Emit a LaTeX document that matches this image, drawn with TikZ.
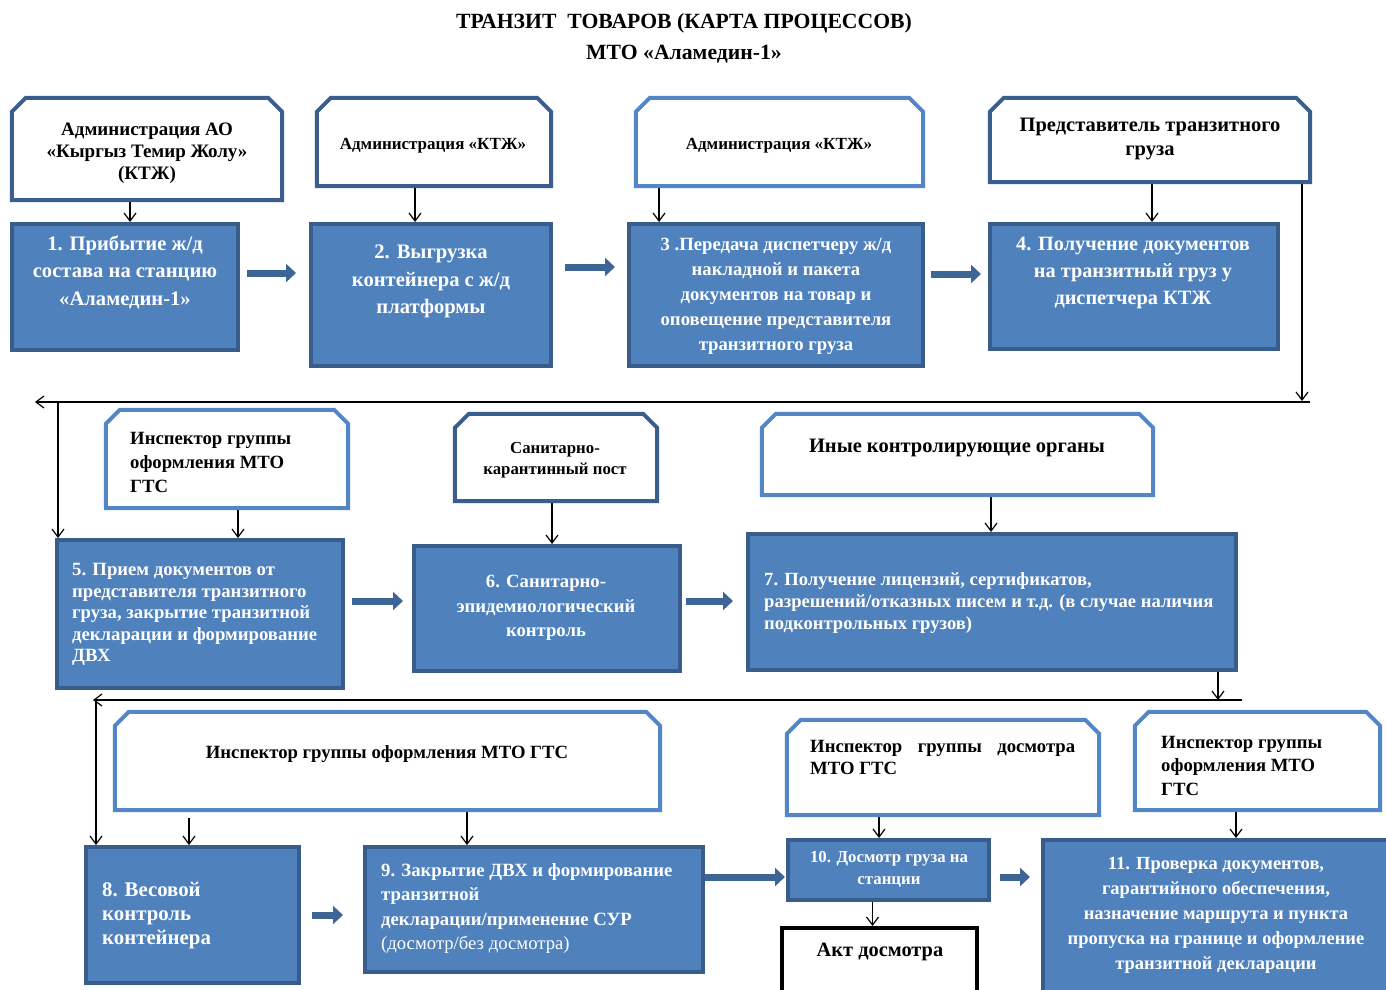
\documentclass[tikz,border=0pt]{standalone}
\usepackage{fontspec}
\setmainfont{Liberation Serif}
\usetikzlibrary{arrows.meta,calc}

\definecolor{boxblue}{HTML}{4F81BD}
\definecolor{boxedge}{HTML}{385D8A}
\definecolor{hdrlight}{HTML}{5286C6}
\definecolor{hdrdark}{HTML}{3A5F8E}
\definecolor{flowblue}{HTML}{3D6696}

\newcommand{\fs}[2]{\fontsize{#1}{#2}\selectfont\bfseries}

\tikzset{
  hdr/.style={rectangle, fill=white, inner sep=0pt},
  blk/.style={rectangle, draw=boxedge, line width=4pt, fill=boxblue, inner sep=0pt},
  actbox/.style={rectangle, draw=black, line width=4pt, fill=white, inner sep=0pt},
  lbl/.style={align=center, inner sep=0pt},
  wlbl/.style={lbl, text=white},
  flow/.style={draw=flowblue, line width=7pt, -{Triangle[length=10pt,width=18pt]}},
  link/.style={draw=black, line width=1.2pt, -{Straight Barb[length=8pt,width=12pt]}},
}

\begin{document}
\begin{tikzpicture}[x=1pt,y=-1pt]

% page
\fill[white] (0,0) rectangle (1386,990);
\useasboundingbox (0,0) rectangle (1386,990);

% title
\node[lbl, font={\fs{21.7}{31}}] (title) at (684,38) {ТРАНЗИТ\ \ ТОВАРОВ (КАРТА ПРОЦЕССОВ)\\МТО «Аламедин-1»};

% row 1
\node[hdr, minimum width=270pt, minimum height=102pt] (h1) at (147,149) {};
\node[hdr, minimum width=234pt, minimum height=88pt] (h2) at (434,142) {};
\node[hdr, minimum width=287pt, minimum height=88pt] (h3) at (779.5,142) {};
\node[hdr, minimum width=320pt, minimum height=84pt] (h4) at (1150,140) {};

\node[blk, minimum width=226pt, minimum height=126pt] (b1) at (125,287) {};
\node[blk, minimum width=240pt, minimum height=142pt] (b2) at (431,295) {};
\node[blk, minimum width=294pt, minimum height=142pt] (b3) at (776,295) {};
\node[blk, minimum width=288pt, minimum height=125pt] (b4) at (1134,286.5) {};

\node[lbl, font={\fs{19}{22}}] (h1t) at (147,153) {Администрация АО\\«Кыргыз Темир Жолу»\\(КТЖ)};
\node[lbl, font={\fs{17}{20}}] (h2t) at (433,146) {Администрация «КТЖ»};
\node[lbl, font={\fs{17}{20}}] (h3t) at (779,146) {Администрация «КТЖ»};
\node[lbl, font={\fs{20.5}{24}}] (h4t) at (1150,139) {Представитель транзитного\\груза};

\node[wlbl, font={\fs{20.6}{27.5}}] (b1t) at (125,272) {1. Прибытие ж/д\\состава на станцию\\«Аламедин-1»};
\node[wlbl, font={\fs{20.6}{27.5}}] (b2t) at (431,281.5) {2. Выгрузка\\контейнера с ж/д\\платформы};
\node[wlbl, font={\fs{18.7}{25}}] (b3t) at (776,296) {3 .Передача диспетчеру ж/д\\накладной и пакета\\документов на товар и\\оповещение представителя\\транзитного груза};
\node[wlbl, font={\fs{20.3}{27}}] (b4t) at (1133,273) {4. Получение документов\\на транзитный груз у\\диспетчера КТЖ};

\draw[link] ($(h1.south)+(-17,0)$) coordinate (a) -- (a |- b1.north);
\draw[link] ($(h2.south)+(-19,0)$) coordinate (a) -- (a |- b2.north);
\draw[link] ($(h3.south)+(-120.5,0)$) coordinate (a) -- (a |- b3.north);
\draw[link] ($(h4.south)+(2,0)$) coordinate (a) -- (a |- b4.north);

\draw[flow] ($(b1.east)+(7,-14)$) coordinate (a) -- ($(a -| b2.west)+(-13,0)$);
\draw[flow] ($(b2.east)+(12,-28)$) coordinate (a) -- ($(a -| b3.west)+(-12,0)$);
\draw[flow] ($(b3.east)+(6,-21)$) coordinate (a) -- ($(a -| b4.west)+(-7,0)$);

% return to row 2
\coordinate (r1) at (1302,401);
\coordinate (r1a) at (1310,402);
\coordinate (r1b) at (35,402);
\coordinate (r1c) at (58,402);

% row 2
\node[hdr, minimum width=242pt, minimum height=98pt] (h5) at (227,459) {};
\node[hdr, minimum width=202pt, minimum height=87pt] (h6) at (556,457.5) {};
\node[hdr, minimum width=391pt, minimum height=81pt] (h7) at (957.5,454.5) {};

\node[blk, minimum width=286pt, minimum height=148pt] (b5) at (200,614) {};
\node[blk, minimum width=266pt, minimum height=125pt] (b6) at (547,608.5) {};
\node[blk, minimum width=488pt, minimum height=136pt] (b7) at (992,602) {};

\node[lbl, align=left, anchor=west, font={\fs{18.7}{24}}] (h5t) at (130,462) {Инспектор группы\\оформления МТО\\ГТС};
\node[lbl, font={\fs{16.8}{21}}] (h6t) at (555,460.5) {Санитарно-\\карантинный пост};
\node[lbl, font={\fs{20.5}{24}}] (h7t) at (957,448) {Иные контролирующие органы};

\node[wlbl, align=left, anchor=west, font={\fs{18.7}{21.5}}] (b5t) at (72,614.5) {5. Прием документов от\\представителя транзитного\\груза, закрытие транзитной\\декларации и формирование\\ДВХ};
\node[wlbl, font={\fs{18.7}{24.5}}] (b6t) at (546,608) {6. Санитарно-\\эпидемиологический\\контроль};
\node[wlbl, align=left, anchor=west, font={\fs{18.6}{22}}] (b7t) at (764,603) {7. Получение лицензий, сертификатов,\\разрешений/отказных писем и т.д. (в случае наличия\\подконтрольных грузов)};

\draw[link] (r1 |- h4.south) -- (r1);
\draw[link] (r1a) -- (r1b);
\draw[link] (r1c) -- (r1c |- b5.north);

\draw[link] ($(h5.south)+(11,0)$) coordinate (a) -- (a |- b5.north);
\draw[link] ($(h6.south)+(-4,0)$) coordinate (a) -- (a |- b6.north);
\draw[link] ($(h7.south)+(33.5,0)$) coordinate (a) -- (a |- b7.north);

\draw[flow] ($(b5.east)+(7,-13)$) coordinate (a) -- ($(a -| b6.west)+(-9,0)$);
\draw[flow] ($(b6.east)+(4,-7.5)$) coordinate (a) -- ($(a -| b7.west)+(-13,0)$);

% return to row 3
\coordinate (r2) at (1218,700);
\coordinate (r2a) at (1242,700);
\coordinate (r2b) at (93,700);
\coordinate (r2c) at (96,700);

% row 3
\node[hdr, minimum width=545pt, minimum height=98pt] (h8) at (387.5,761) {};
\node[hdr, minimum width=312pt, minimum height=95pt] (h10) at (943,767.5) {};
\node[hdr, minimum width=245pt, minimum height=98pt] (h11) at (1257.5,761) {};

\node[blk, minimum width=213pt, minimum height=136pt] (b8) at (192.5,915) {};
\node[blk, minimum width=338pt, minimum height=125pt] (b9) at (534,909.5) {};
\node[blk, minimum width=201pt, minimum height=60pt] (b10) at (888.5,870) {};
\node[actbox, minimum width=195pt, minimum height=80pt] (act) at (879.5,968) {};
\node[blk, minimum width=350pt, minimum height=170pt] (b11) at (1218,925) {};

\node[lbl, font={\fs{18.7}{24}}] (h8t) at (387,754) {Инспектор группы оформления МТО ГТС};
\node[lbl, align=left, anchor=west, font={\fs{18.7}{22}}] (h10t) at (810,757.5) {\hbox to 265pt{Инспектор\hfill группы\hfill досмотра}\\МТО ГТС};
\node[lbl, align=left, anchor=west, font={\fs{18.7}{23.5}}] (h11t) at (1161,765.5) {Инспектор группы\\оформления МТО\\ГТС};

\node[wlbl, align=left, anchor=west, font={\fs{20.8}{24}}] (b8t) at (102,916) {8. Весовой\\контроль\\контейнера};
\node[wlbl, align=left, anchor=west, font={\fs{18.7}{24.3}}] (b9t) at (381,908.5) {9. Закрытие ДВХ и формирование\\транзитной\\декларации/применение СУР\\{\mdseries (досмотр/без досмотра)}};
\node[wlbl, font={\fs{16.8}{22.5}}] (b10t) at (889,869.5) {10. Досмотр груза на\\станции};
\node[lbl, font={\fs{20.4}{24}}] (actt) at (880,952) {Акт досмотра};
\node[wlbl, font={\fs{18.5}{25}}] (b11t) at (1216,915) {11. Проверка документов,\\гарантийного обеспечения,\\назначение маршрута и пункта\\пропуска на границе и оформление\\транзитной декларации};

\draw[link] (r2 |- b7.south) -- (r2);
\draw[link] (r2a) -- (r2b);
\draw[link] (r2c) -- (r2c |- b8.north);

\draw[link] ($(h8.south)+(-198.5,8)$) coordinate (a) -- (a |- b8.north);
\draw[link] ($(h8.south)+(79.5,0)$) coordinate (a) -- (a |- b9.north);
\draw[link] ($(h10.south)+(-64,0)$) coordinate (a) -- (a |- b10.north);
\draw[link] ($(b10.south)+(-16,0)$) coordinate (a) -- (a |- act.north);
\draw[link] ($(h11.south)+(-21.5,0)$) coordinate (a) -- (a |- b11.north);

\draw[flow] ($(b8.east)+(11,0)$) coordinate (a) -- ($(a -| b9.west)+(-20,0)$);
\draw[flow] ($(b9.east)+(0,-32.5)$) coordinate (a) -- ($(a -| b10.west)+(-1,0)$);
\draw[flow] ($(b10.east)+(9,7)$) coordinate (a) -- ($(a -| b11.west)+(-11,0)$);

% header outlines, top corners cut
\foreach \n/\c in {h1/hdrdark, h2/hdrdark, h3/hdrlight, h4/hdrdark, h5/hdrlight, h6/hdrdark,
                   h7/hdrlight, h8/hdrlight, h10/hdrlight, h11/hdrlight}
  \draw[draw=\c, line width=4pt] (\n.south west) -- ($(\n.north west)+(0,14)$)
    -- ($(\n.north west)+(14,0)$) -- ($(\n.north east)+(-14,0)$)
    -- ($(\n.north east)+(0,14)$) -- (\n.south east) -- cycle;

\end{tikzpicture}
\end{document}
